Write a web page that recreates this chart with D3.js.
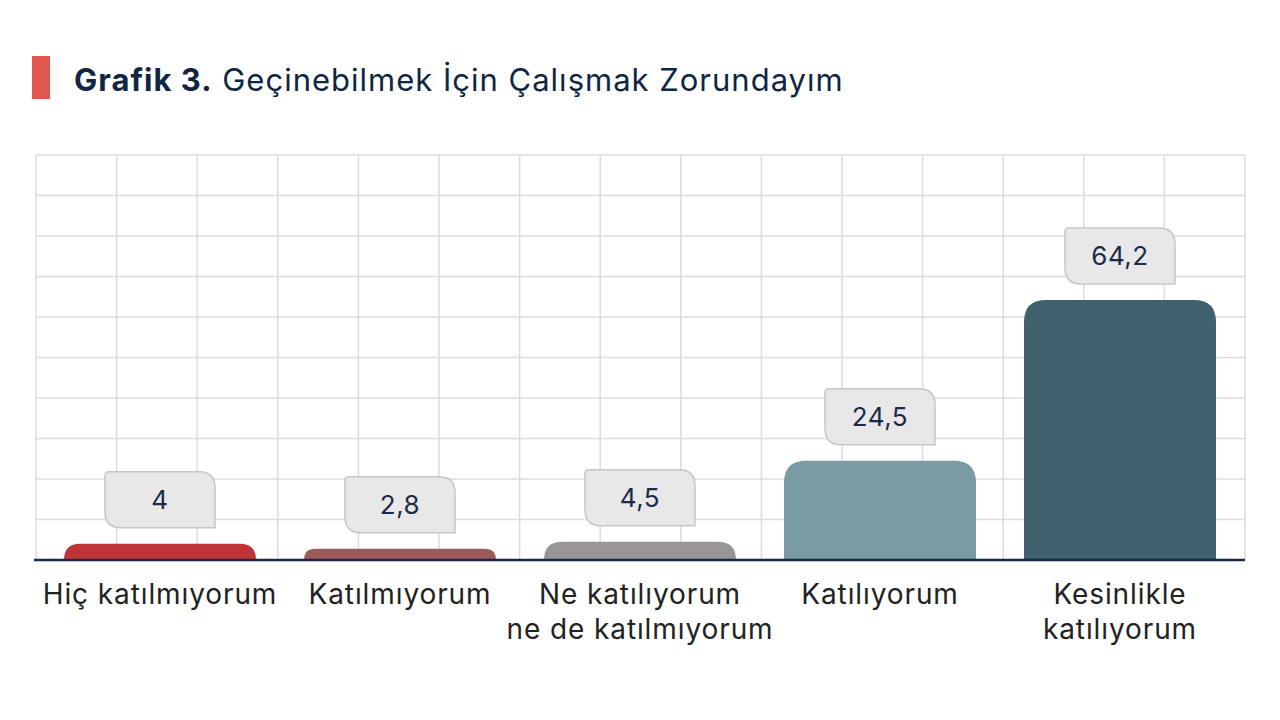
<!DOCTYPE html>
<html>
<head>
<meta charset="utf-8">
<script src="https://cdn.jsdelivr.net/npm/d3@7"></script>
<style>
  body { margin: 0; background: #fff; }
  svg { display: block; font-family: Inter, "Open Sans", sans-serif; }
</style>
</head>
<body>
<svg id="chart" width="1280" height="720"></svg>
<script>
const categories = [
  ["Hiç katılmıyorum"],
  ["Katılmıyorum"],
  ["Ne katılıyorum", "ne de katılmıyorum"],
  ["Katılıyorum"],
  ["Kesinlikle", "katılıyorum"]
];
const values = [4, 2.8, 4.5, 24.5, 64.2];
const valueLabels = ["4", "2,8", "4,5", "24,5", "64,2"];
const barColors = ["#c03436", "#9c5a5b", "#969696", "#7a9ba3", "#3f616d"];

const svg = d3.select("#chart");

// title
svg.append("rect").attr("x", 32).attr("y", 56).attr("width", 18).attr("height", 43).attr("fill", "#e0574f");
const title = svg.append("text").attr("x", 74).attr("y", 91)
  .attr("font-size", 31).attr("letter-spacing", 1).attr("fill", "#0f2642");
title.append("tspan").attr("font-weight", 700).text("Grafik 3.");
title.append("tspan").text(" Geçinebilmek İçin Çalışmak Zorundayım");

const plot = { left: 36, right: 1245, top: 155, bottom: 560 };

const y = d3.scaleLinear().domain([0, 100]).range([plot.bottom, plot.top]);
const x = d3.scaleBand().domain(d3.range(values.length)).range([40, 1240]).paddingInner(0.2).paddingOuter(0.1);
const gridX = d3.scaleLinear().domain([0, 15]).range([plot.left, plot.right]);

// grid
const grid = svg.append("g").attr("stroke", "#dcdbe3").attr("stroke-width", 1.5);
grid.selectAll(".h").data(d3.range(10, 101, 10)).join("line")
  .attr("x1", plot.left).attr("x2", plot.right)
  .attr("y1", d => y(d)).attr("y2", d => y(d));
grid.selectAll(".v").data(d3.range(0, 16)).join("line")
  .attr("x1", d => gridX(d)).attr("x2", d => gridX(d))
  .attr("y1", plot.top).attr("y2", plot.bottom);

// bars with rounded tops
function barPath(x0, w, yTop, yBase) {
  const h = yBase - yTop;
  const r = Math.min(22, h, w / 2);
  return `M${x0},${yBase} L${x0},${yTop + r} Q${x0},${yTop} ${x0 + r},${yTop}` +
    ` L${x0 + w - r},${yTop} Q${x0 + w},${yTop} ${x0 + w},${yTop + r} L${x0 + w},${yBase} Z`;
}
svg.append("g").selectAll("path").data(values).join("path")
  .attr("d", (d, i) => barPath(x(i), x.bandwidth(), y(d), y(0)))
  .attr("fill", (d, i) => barColors[i]);

// axis line
svg.append("line").attr("x1", 34).attr("x2", plot.right)
  .attr("y1", y(0)).attr("y2", y(0))
  .attr("stroke", "#1b2a47").attr("stroke-width", 2.5);

// value label boxes
const bw = 110, bh = 56, gap = 16, rs = 4, rl = 16;
function boxPath(x0, y0) {
  return `M${x0 + rs},${y0} L${x0 + bw - rl},${y0} Q${x0 + bw},${y0} ${x0 + bw},${y0 + rl}` +
    ` L${x0 + bw},${y0 + bh} L${x0 + rl},${y0 + bh} Q${x0},${y0 + bh} ${x0},${y0 + bh - rl}` +
    ` L${x0},${y0 + rs} Q${x0},${y0} ${x0 + rs},${y0} Z`;
}
const lbl = svg.append("g").selectAll("g").data(values).join("g")
  .attr("transform", (d, i) => `translate(${x(i) + x.bandwidth() / 2 - bw / 2},${y(d) - gap - bh})`);
lbl.append("path").attr("d", boxPath(0, 0))
  .attr("fill", "#e8e8e8").attr("stroke", "#c6c6c6").attr("stroke-width", 1.5);
lbl.append("text").attr("x", bw / 2).attr("y", bh / 2 + 9)
  .attr("text-anchor", "middle").attr("font-size", 26).attr("letter-spacing", 0.5).attr("fill", "#1b2a47")
  .text((d, i) => valueLabels[i]);

// category labels
svg.append("g").selectAll("text").data(categories).join("text")
  .attr("text-anchor", "middle").attr("font-size", 28).attr("letter-spacing", 0.9).attr("fill", "#222")
  .attr("transform", (d, i) => `translate(${x(i) + x.bandwidth() / 2},604)`)
  .selectAll("tspan").data(d => d).join("tspan")
  .attr("x", 0).attr("dy", (d, j) => j === 0 ? 0 : 35)
  .text(d => d);
</script>
</body>
</html>
